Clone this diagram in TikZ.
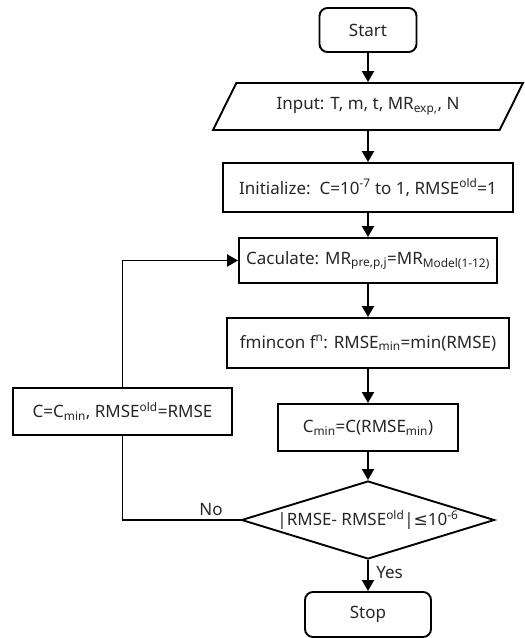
\documentclass[tikz,border=0pt]{standalone}
\usepackage{fontspec}
\setmainfont{Noto Sans}
\newfontfamily\symfont{DejaVu Sans}
\usetikzlibrary{shapes.geometric, arrows.meta, positioning}

\begin{document}
\begin{tikzpicture}[
        x=1pt, y=-1pt,
        font=\fontsize{17}{20}\selectfont,
        every node/.style={text=black!85},
        box/.style={rectangle, draw, line width=1.9pt, inner sep=0pt, align=center},
        term/.style={box, rounded corners=8pt},
        io/.style={trapezium, draw, line width=1.9pt, trapezium left angle=37, trapezium right angle=143, trapezium stretches body, inner sep=0pt},
        decision/.style={diamond, draw, line width=1.9pt, aspect=3.2, inner sep=0pt},
        line/.style={line width=1.9pt},
        arrow/.style={line, -{Triangle[length=11pt, width=12pt]}}
    ]
        \useasboundingbox (0,0) rectangle (525,638);

        % Main column
        \node[term, minimum width=97pt, minimum height=44pt] (start) at (368, 30) {Start};
        \node[io, minimum width=310pt, minimum height=47pt] (input) at (368, 106.5) {Input: T, m, t, MR\textsubscript{exp,}, N};
        \node[box, minimum width=290pt, minimum height=49pt] (init) at (368, 187.5) {Initialize:\ \ C=10\textsuperscript{-7} to 1, RMSE\textsuperscript{old}=1};
        \node[box, minimum width=258pt, minimum height=45pt] (calc) at (368, 260.5) {Caculate: MR\textsubscript{pre,p,j}=MR\textsubscript{Model(1-12)}};
        \node[box, minimum width=282pt, minimum height=50pt] (fmin) at (368, 343) {fmincon f\textsuperscript{n}: RMSE\textsubscript{min}=min(RMSE)};
        \node[box, minimum width=180pt, minimum height=47pt] (cmin) at (368, 427.5) {C\textsubscript{min}=C(RMSE\textsubscript{min})};
        \node[decision, minimum width=253pt, minimum height=78pt] (check) at (368, 520) {|RMSE- RMSE\textsuperscript{old}|{\symfont ≤}10\textsuperscript{-6}};
        \node[term, minimum width=126pt, minimum height=45pt] (stop) at (368, 614.5) {Stop};

        % Update box on the loop
        \node[box, minimum width=219pt, minimum height=47pt] (update) at (122.5, 411.5) {C=C\textsubscript{min}, RMSE\textsuperscript{old}=RMSE};

        \draw[arrow] (start) -- (input);
        \draw[arrow] (input) -- (init);
        \draw[arrow] (init) -- (calc);
        \draw[arrow] (calc) -- (fmin);
        \draw[arrow] (fmin) -- (cmin);
        \draw[arrow] (cmin) -- (check);
        \draw[arrow] (check) -- node[right, pos=0.4, xshift=4pt] {Yes} (stop);

        % Loop back
        \draw[line] (check.west) -- node[above, pos=0.25] {No} (check.west -| update.south) -- (update.south);
        \draw[arrow] (update.north) |- (calc.west);

    \end{tikzpicture}
\end{document}
